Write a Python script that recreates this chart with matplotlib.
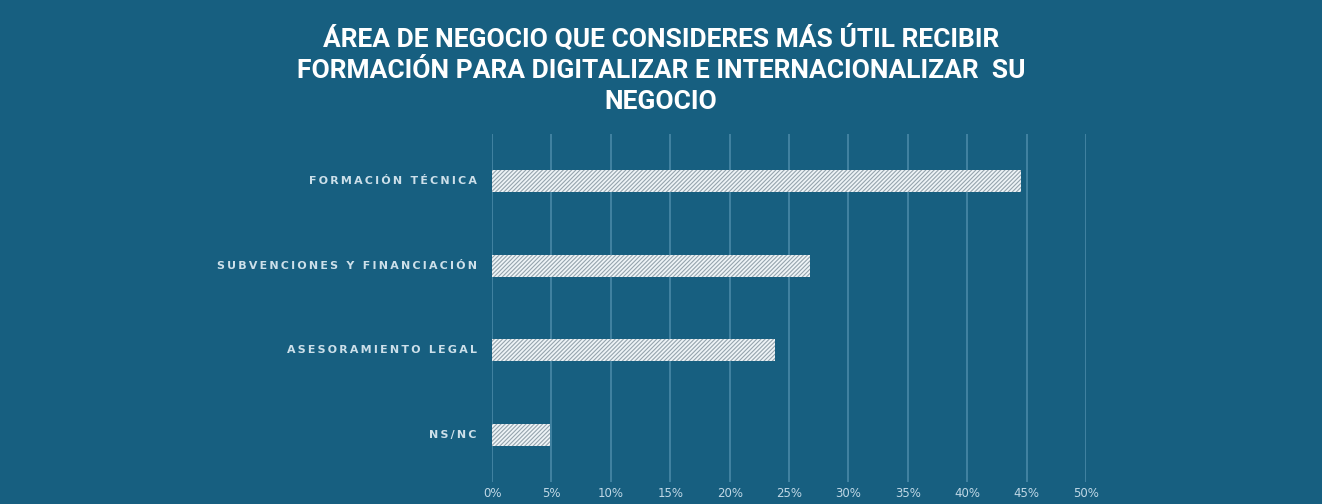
import matplotlib.pyplot as plt
import matplotlib as mpl

# Survey: preferred training area for going digital / international
categories = ['FORMACIÓN TÉCNICA', 'SUBVENCIONES Y FINANCIACIÓN',
              'ASESORAMIENTO LEGAL', 'NS/NC']
shares = [44.5, 26.8, 23.8, 4.9]
ticks = [0, 5, 10, 15, 20, 25, 30, 35, 40, 45, 50]

BG = '#175f80'
GRID = '#4d8cab'
LABEL = '#cde0ea'

mpl.rcParams['hatch.linewidth'] = 0.8

fig = plt.figure(figsize=(13.22, 5.04), dpi=100, facecolor=BG)
ax = fig.add_axes([0.3722, 0.044, 0.4493, 0.69])
ax.set_facecolor(BG)

y = list(range(len(categories)))[::-1]
# edge colour drives the hatch colour; lw=0 hides the outline itself
ax.barh(y, shares, height=0.26, color='#eef4f7', edgecolor='#95a4ad',
        linewidth=0, hatch='////////', zorder=3)

ax.set_xlim(0, 50)
ax.set_ylim(-0.555, 3.555)
for t in ticks:
    ax.axvline(t, color=GRID, lw=1.1, zorder=1)

for s in ax.spines.values():
    s.set_visible(False)
ax.set_xticks([])
ax.set_yticks([])

# spaced-out category labels
for yi, cat in zip(y, categories):
    ax.text(-1.3, yi, '\u2009'.join(cat), ha='right', va='center',
            fontsize=7.9, fontweight='bold', color=LABEL)

# percent labels under the grid
xt = ax.get_xaxis_transform()
for t in ticks:
    ax.text(t, -0.035, f'{t}%', ha='center', va='center',
            fontsize=8.5, color='#c0d8e6', transform=xt, clip_on=False)

fig.text(0.5, 0.862,
         'ÁREA DE NEGOCIO QUE CONSIDERES MÁS ÚTIL RECIBIR\n'
         'FORMACIÓN PARA DIGITALIZAR E INTERNACIONALIZAR  SU\n'
         'NEGOCIO',
         ha='center', va='center', fontsize=19, fontweight='bold',
         color='white', linespacing=1.37, fontfamily='Roboto')

fig.savefig('out.png', dpi=100, facecolor=BG)
